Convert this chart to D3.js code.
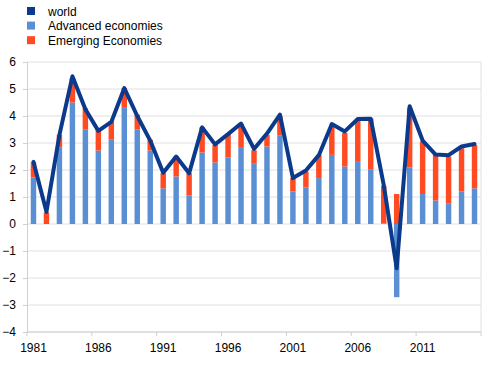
<!DOCTYPE html>
<html>
<head>
<meta charset="utf-8">
<script src="https://cdn.jsdelivr.net/npm/d3@7"></script>
<style>
  body { margin: 0; background: #fff; }
  svg { font-family: "Liberation Sans", Arial, sans-serif; }
</style>
</head>
<body>
<svg id="chart"></svg>
<script>
// years on the category axis
var years = d3.range(1981, 2016)

// contributions to world growth
var advanced = [1.72, 0.0, 2.83, 4.5, 3.51, 2.72, 3.14, 4.33, 3.51, 2.72,
                1.32, 1.76, 1.05, 2.65, 2.28, 2.46, 2.85, 2.23, 2.87, 3.27,
                1.21, 1.36, 1.7, 2.56, 2.13, 2.33, 2.03, 0.02, -2.71, 2.09,
                1.11, 0.87, 0.77, 1.21, 1.32]
var emerging = [0.57, 0.43, 0.47, 0.91, 0.78, 0.77, 0.66, 0.71, 0.54, 0.4,
                0.56, 0.74, 0.83, 0.93, 0.65, 0.87, 0.86, 0.5, 0.43, 0.71,
                0.49, 0.58, 0.86, 1.12, 1.24, 1.49, 1.87, 1.39, 1.11, 2.2,
                1.95, 1.69, 1.73, 1.6, 1.61]
var world = [2.3, 0.45, 3.3, 5.47, 4.25, 3.45, 3.78, 5.03, 4.0, 3.09,
             1.9, 2.5, 1.88, 3.58, 2.95, 3.33, 3.72, 2.78, 3.35, 4.05,
             1.7, 1.98, 2.55, 3.7, 3.43, 3.89, 3.9, 1.45, -1.64, 4.36,
             3.09, 2.57, 2.55, 2.87, 2.96]

var seriesNames = ["world", "Advanced economies", "Emerging Economies"]
var colors = ["#0b3a8c", "#5b8fd4", "#ff4a22"]
var yTicks = d3.range(-4, 7)
var xLabels = [1981, 1986, 1991, 1996, 2001, 2006, 2011]

var dimensions = {
    width: 491,
    height: 365,
    margin: { top: 62, bottom: 33, right: 10, left: 27 }
}

var svg = d3.select("#chart")
    .attr("width", dimensions.width)
    .attr("height", dimensions.height)

var xScale = d3.scaleBand()
    .domain(years)
    .range([dimensions.margin.left, dimensions.width - dimensions.margin.right])
    .paddingInner(0.58)
    .paddingOuter(0.29)

var yScale = d3.scaleLinear()
    .domain([-4, 6])
    .range([dimensions.height - dimensions.margin.bottom, dimensions.margin.top])

var left = dimensions.margin.left
var right = dimensions.width - dimensions.margin.right

// gridlines
svg.append("g")
    .selectAll("line")
    .data(yTicks)
    .enter()
    .append("line")
    .attr("x1", left)
    .attr("x2", right)
    .attr("y1", d => yScale(d))
    .attr("y2", d => yScale(d))
    .attr("stroke", "#e0e0e0")
    .attr("stroke-width", 1)

// right frame
svg.append("line")
    .attr("x1", right).attr("x2", right)
    .attr("y1", yScale(6)).attr("y2", yScale(-4))
    .attr("stroke", "#e0e0e0")

// stacked bars: positives stack up, negatives stack down
var rows = years.map((y, i) => ({ year: y, adv: advanced[i], em: emerging[i] }))
function stackParts(d) {
    var pos = 0, neg = 0, out = []
    ;[["adv", colors[1]], ["em", colors[2]]].forEach(function (k) {
        var v = d[k[0]]
        if (v >= 0) { out.push({ year: d.year, y0: pos, y1: pos + v, color: k[1] }); pos += v }
        else { out.push({ year: d.year, y0: neg, y1: neg + v, color: k[1] }); neg += v }
    })
    return out
}

svg.append("g")
    .selectAll("rect")
    .data(rows.flatMap(stackParts))
    .enter()
    .append("rect")
    .attr("x", d => xScale(d.year))
    .attr("width", xScale.bandwidth())
    .attr("y", d => yScale(Math.max(d.y0, d.y1)))
    .attr("height", d => Math.abs(yScale(d.y0) - yScale(d.y1)))
    .attr("fill", d => d.color)

// world line
var line = d3.line()
    .x((d, i) => xScale(years[i]) + xScale.bandwidth() / 2)
    .y(d => yScale(d))

svg.append("path")
    .datum(world)
    .attr("d", line)
    .attr("fill", "none")
    .attr("stroke", colors[0])
    .attr("stroke-width", 4)
    .attr("stroke-linejoin", "round")
    .attr("stroke-linecap", "round")

// y axis
var yAxis = svg.append("g")
    .attr("transform", `translate(${left},0)`)
    .call(d3.axisLeft(yScale).tickValues(yTicks).tickSize(4).tickPadding(7).tickFormat(d3.format("d")))
yAxis.select(".domain").attr("stroke", "#d0d0d0")
yAxis.selectAll(".tick line").attr("stroke", "#d0d0d0")
yAxis.selectAll("text").attr("font-size", 12).attr("fill", "#000")

// x axis: ticks at category boundaries every 5 years, labels centred on category
var step = xScale.step()
var xAxis = svg.append("g")
    .attr("transform", `translate(0,${yScale(-4)})`)
xAxis.append("line")
    .attr("x1", left).attr("x2", right)
    .attr("stroke", "#d0d0d0")
xAxis.selectAll("line.tk")
    .data(xLabels.concat([2016]))
    .enter()
    .append("line")
    .attr("class", "tk")
    .attr("x1", d => left + (d - 1981) * step)
    .attr("x2", d => left + (d - 1981) * step)
    .attr("y1", 0).attr("y2", 4)
    .attr("stroke", "#d0d0d0")
xAxis.selectAll("text")
    .data(xLabels)
    .enter()
    .append("text")
    .attr("x", d => xScale(d) + xScale.bandwidth() / 2)
    .attr("y", 20)
    .attr("text-anchor", "middle")
    .attr("font-size", 12)
    .text(d => d)

// legend
var legend = svg.append("g")
    .selectAll("g")
    .data(seriesNames)
    .enter()
    .append("g")
    .attr("transform", (d, i) => `translate(27,${11 + i * 14.6})`)
legend.append("rect")
    .attr("x", 0).attr("y", -4)
    .attr("width", 8).attr("height", 8)
    .attr("fill", (d, i) => colors[i])
legend.append("text")
    .attr("x", 21)
    .attr("y", 4.5)
    .attr("font-size", 12)
    .text(d => d)
</script>
</body>
</html>
